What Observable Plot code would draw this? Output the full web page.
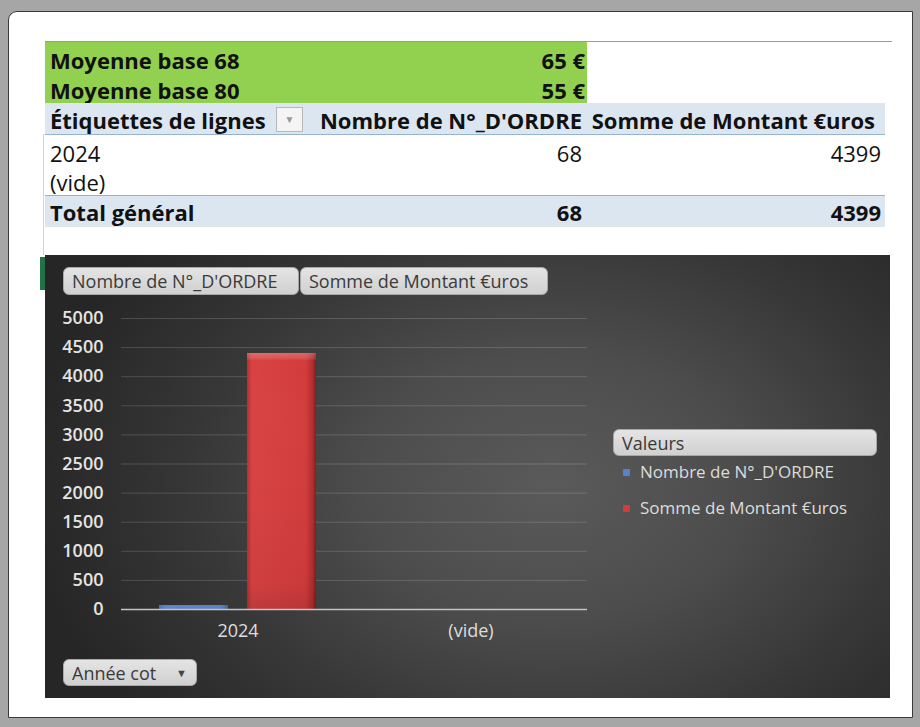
<!DOCTYPE html>
<html>
<head>
<meta charset="utf-8">
<script src="https://cdn.jsdelivr.net/npm/d3@7"></script>
<script src="https://cdn.jsdelivr.net/npm/@observablehq/plot@0.6"></script>
<style>
  html, body { margin: 0; padding: 0; }
  body { width: 920px; height: 727px; background: #a6a6a6; position: relative; overflow: hidden; font-family: "Open Sans", sans-serif; }
  .abs { position: absolute; }
  #panel { left: 8px; top: 11px; width: 905px; height: 707px; background: #fff; border: 1px solid #3a3a3a; border-top-left-radius: 9px; box-sizing: border-box; }
  .cell { position: absolute; font-size: 22px; line-height: 28px; color: #111; white-space: nowrap; }
  .b { font-weight: 700; }
  .r { text-align: right; }
  #chartbox { left: 45px; top: 255px; width: 845px; height: 443px;
    background: radial-gradient(ellipse 62% 85% at 60% 52%, #5a5a5a 0%, #4d4d4d 35%, #363636 70%, #262626 100%); }
  .btn { position: absolute; background: linear-gradient(#e4e4e4, #d0d0d0); border: 1px solid #a8a8a8; border-radius: 6px; box-sizing: border-box; color: #3a3a3a; font-size: 18px; line-height: 26px; white-space: nowrap; padding-left: 8px; }
  .leg { position: absolute; color: #dcdcdc; font-size: 17px; white-space: nowrap; line-height: 22px; }
  .mk { position: absolute; width: 7px; height: 7px; border-radius: 1px; }
</style>
</head>
<body>
<div id="panel" class="abs"></div>
<div id="table"></div>
<div id="chartbox" class="abs"></div>
<div id="chart" class="abs" style="left:45px; top:300px;"></div>
<div id="overlay"></div>
<script>
// ---- data ----
const avgLabels = ["Moyenne base 68", "Moyenne base 80"];
const avgValues = ["65 €", "55 €"];
const headerLabels = ["Étiquettes de lignes", "Nombre de N°_D'ORDRE", "Somme de Montant €uros"];
const rowLabels = ["2024", "(vide)"];
const rowNombre = ["68", ""];
const rowSomme = ["4399", ""];
const totalLabel = "Total général";
const totalNombre = "68";
const totalSomme = "4399";

const categories = ["2024", "(vide)"];
const seriesNames = ["Nombre de N°_D'ORDRE", "Somme de Montant €uros"];
const nombreValues = [68, null];
const sommeValues = [4399, null];
const yTicks = [0, 500, 1000, 1500, 2000, 2500, 3000, 3500, 4000, 4500, 5000];
const fieldButtons = ["Nombre de N°_D'ORDRE", "Somme de Montant €uros"];
const axisFieldButton = "Année cot";
const legendTitle = "Valeurs";

// ---- table (HTML) ----
const T = document.getElementById("table");
function add(parent, html, cls, style) {
  const d = document.createElement("div");
  d.className = cls; d.style.cssText = style; d.innerHTML = html;
  parent.appendChild(d); return d;
}
add(T, "", "abs", "left:45px;top:42px;width:542px;height:61px;background:#92d050;");
add(T, "", "abs", "left:45px;top:41px;width:847px;height:1px;background:#9a9a9a;");
avgLabels.forEach((t, i) => {
  add(T, t, "cell b", `left:50px;top:${46 + i * 30}px;`);
  add(T, avgValues[i], "cell b r", `left:400px;width:185px;top:${46 + i * 30}px;`);
});
add(T, "", "abs", "left:45px;top:103px;width:840px;height:31px;background:#dce6f1;border-bottom:1px solid #95b3d7;");
add(T, headerLabels[0], "cell b", "left:50px;top:106px;");
add(T, "&#9660;", "abs", "left:276px;top:107px;width:27px;height:25px;background:#f4f4f4;border:1px solid #b8b8b8;box-sizing:border-box;color:#999;font-size:10px;line-height:23px;text-align:center;");
add(T, headerLabels[1], "cell b r", "left:300px;width:282px;top:106px;");
add(T, headerLabels[2], "cell b r", "left:585px;width:290px;top:106px;");
rowLabels.forEach((t, i) => {
  const y = 139 + i * 29;
  add(T, t, "cell", `left:50px;top:${y}px;`);
  add(T, rowNombre[i], "cell r", `left:400px;width:182px;top:${y}px;`);
  add(T, rowSomme[i], "cell r", `left:600px;width:281px;top:${y}px;`);
});
add(T, "", "abs", "left:45px;top:195px;width:840px;height:32px;background:#dce6f1;border-top:1px solid #95b3d7;box-sizing:border-box;");
add(T, totalLabel, "cell b", "left:50px;top:198px;");
add(T, totalNombre, "cell b r", "left:400px;width:182px;top:198px;");
add(T, totalSomme, "cell b r", "left:600px;width:281px;top:198px;");
add(T, "", "abs", "left:43px;top:134px;width:1px;height:121px;background:#d4d4d4;");
add(T, "", "abs", "left:40px;top:257px;width:5px;height:33px;background:#217346;");

// ---- chart (Plot) ----
const data = [];
categories.forEach((c, i) => {
  if (nombreValues[i] != null) data.push({cat: c, series: seriesNames[0], value: nombreValues[i]});
  if (sommeValues[i] != null) data.push({cat: c, series: seriesNames[1], value: sommeValues[i]});
});
// grid rows repeated per category so that every facet (even an empty one) is drawn
const gridRows = categories.flatMap(c => yTicks.map(t => ({cat: c, tick: t})));
const zeroRows = categories.map(c => ({cat: c, tick: 0}));

const chart = Plot.plot({
  width: 560,
  height: 350,
  marginLeft: 75,
  marginRight: 18,
  marginTop: 18,
  marginBottom: 41,
  style: {background: "transparent", color: "#e4e4e4", fontFamily: "Open Sans", fontSize: "18px", overflow: "visible"},
  fx: {domain: categories, padding: 0, label: null},
  x: {domain: seriesNames, axis: null, paddingInner: 0.213, paddingOuter: 0.418},
  y: {domain: [0, 5000], label: null},
  color: {type: "ordinal", domain: seriesNames, range: ["url(#gBlue)", "url(#gRed)"]},
  marks: [
    Plot.ruleY(gridRows, {fx: "cat", y: "tick", stroke: "#ffffff", strokeOpacity: 0.16, strokeWidth: 1}),
    Plot.barY(data, {fx: "cat", x: "series", y: "value", fill: "series"}),
    Plot.barY(data, {fx: "cat", x: "series", y: "value", fill: "url(#gShine)"}),
    Plot.ruleY(zeroRows, {fx: "cat", y: "tick", stroke: "#c4c4c4", strokeWidth: 1.5}),
    Plot.axisY(yTicks, {tickSize: 0, tickPadding: 18, label: null, fontWeight: 600, fill: "#e4e4e4", tickFormat: d => String(d)}),
    Plot.axisFx({anchor: "bottom", tickSize: 0, tickPadding: 15, label: null, fill: "#dedede"})
  ]
});
const svgNS = "http://www.w3.org/2000/svg";
const defs = document.createElementNS(svgNS, "defs");
defs.innerHTML = `
  <linearGradient id="gRed" x1="0" x2="1" y1="0" y2="0">
    <stop offset="0" stop-color="#b52f2f"/>
    <stop offset="0.07" stop-color="#d84242"/>
    <stop offset="0.85" stop-color="#d33c3c"/>
    <stop offset="0.95" stop-color="#b22d2d"/>
    <stop offset="1" stop-color="#7d1d1d"/>
  </linearGradient>
  <linearGradient id="gBlue" x1="0" x2="1" y1="0" y2="0">
    <stop offset="0" stop-color="#4a74b4"/>
    <stop offset="0.1" stop-color="#5b88cc"/>
    <stop offset="0.9" stop-color="#5784c8"/>
    <stop offset="1" stop-color="#3e649e"/>
  </linearGradient>
  <linearGradient id="gShine" x1="0" x2="0" y1="0" y2="1">
    <stop offset="0" stop-color="#ffffff" stop-opacity="0.22"/>
    <stop offset="0.02" stop-color="#ffffff" stop-opacity="0.12"/>
    <stop offset="0.03" stop-color="#ffffff" stop-opacity="0"/>
    <stop offset="0.9" stop-color="#000000" stop-opacity="0.04"/>
    <stop offset="1" stop-color="#000000" stop-opacity="0.12"/>
  </linearGradient>`;
chart.insertBefore(defs, chart.firstChild);
document.getElementById("chart").appendChild(chart);

// ---- overlays: field buttons + legend ----
const O = document.getElementById("overlay");
add(O, fieldButtons[0], "btn", "left:63px;top:267px;width:236px;height:28px;");
add(O, fieldButtons[1], "btn", "left:300px;top:267px;width:248px;height:28px;");
add(O, axisFieldButton + '<span style="position:absolute;left:112px;top:0;font-size:11px;color:#444;">&#9660;</span>', "btn", "left:63px;top:659px;width:134px;height:27px;");
add(O, legendTitle, "btn", "left:613px;top:429px;width:264px;height:27px;");
const legendColors = ["#5784c8", "#d33c3c"];
seriesNames.forEach((s, i) => {
  const cy = 472 + i * 36;
  add(O, "", "mk", `left:623px;top:${cy - 3}px;background:${legendColors[i]};`);
  add(O, s, "leg", `left:640px;top:${cy - 11}px;`);
});
</script>
</body>
</html>
